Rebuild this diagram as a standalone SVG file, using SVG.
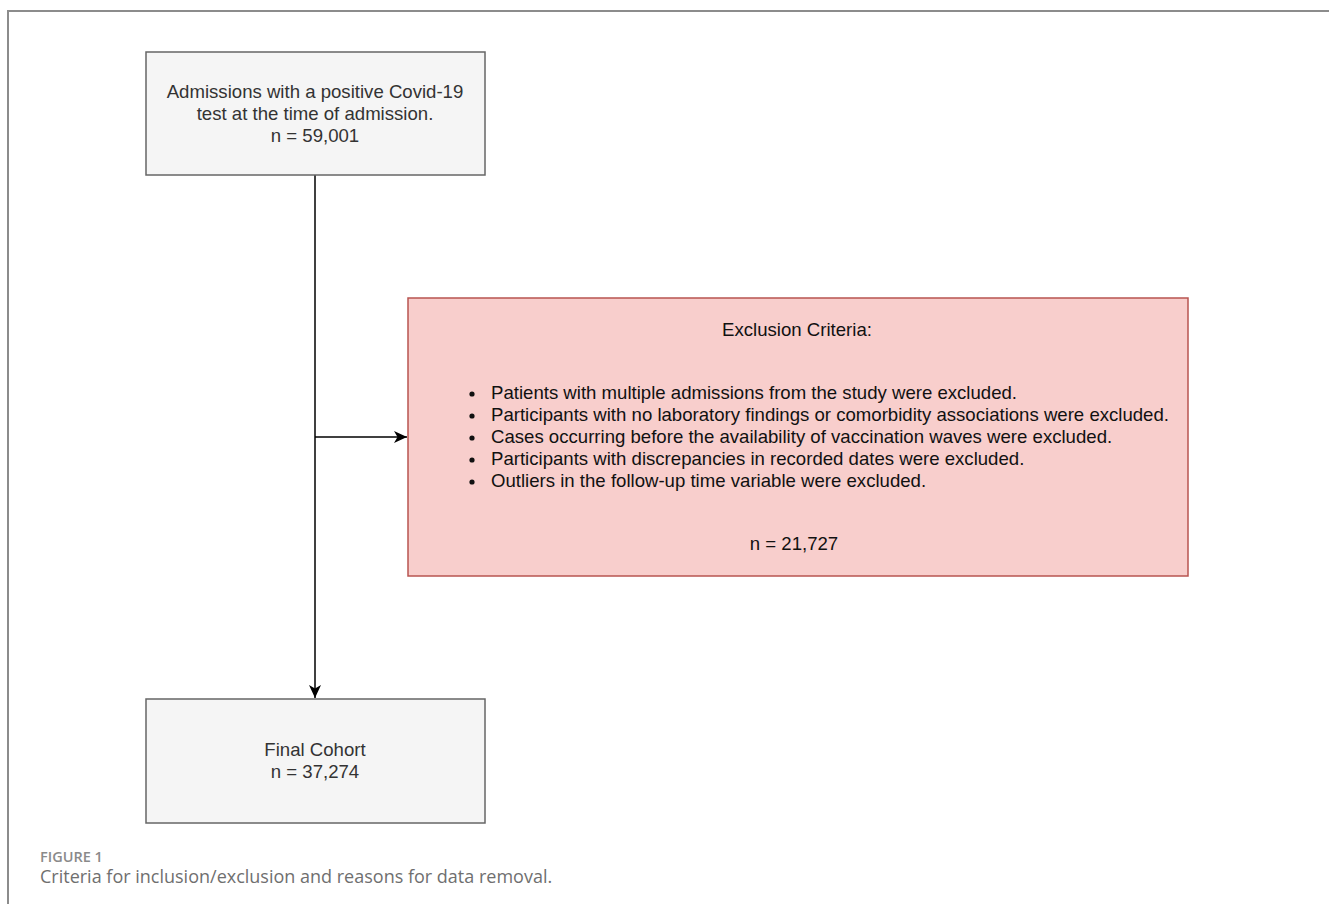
<svg xmlns="http://www.w3.org/2000/svg" width="1329" height="904" viewBox="0 0 1329 904">
<style>
.box{fill:#f5f5f5;stroke:#666;stroke-width:1.5}
.red{fill:#f8cecc;stroke:#b85450;stroke-width:1.5}
.t{font-family:"Liberation Sans",Arial,sans-serif;font-size:18.6px;fill:#333}
.tk{font-family:"Liberation Sans",Arial,sans-serif;font-size:18.6px;fill:#111}
.c{text-anchor:middle}
.edge{stroke:#000;stroke-width:1.5;fill:none}
.cap1{font-family:"Open Sans","Noto Sans",sans-serif;font-size:14.5px;font-weight:600;fill:#8a8a8a}
.cap2{font-family:"Open Sans","Noto Sans",sans-serif;font-size:18px;fill:#6f6f6f}
</style>
<defs>
<marker id="arr" viewBox="0 0 13 12" refX="13" refY="6" markerWidth="13" markerHeight="12" markerUnits="userSpaceOnUse" orient="auto">
<path d="M0,0 L13,6 L0,12 L3.5,6 Z" fill="#000"/>
</marker>
</defs>
<rect width="1329" height="904" fill="#fff"/>
<path d="M8,904 V11 H1329" fill="none" stroke="#8c8c8c" stroke-width="2"/>
<g id="connectors">
<line class="edge" x1="315" y1="175" x2="315" y2="698" marker-end="url(#arr)"/>
<line class="edge" x1="315" y1="437" x2="407" y2="437" marker-end="url(#arr)"/>
</g>
<g id="node-admissions">
<rect class="box" x="146" y="52" width="339" height="123"/>
<text class="t c" x="315" y="98">Admissions with a positive Covid-19</text>
<text class="t c" x="315" y="120">test at the time of admission.</text>
<text class="t c" x="315" y="142">n = 59,001</text>
</g>
<g id="node-exclusion">
<rect class="red" x="408" y="298" width="780" height="278"/>
<text class="tk c" x="797" y="336">Exclusion Criteria:</text>
<g fill="#111">
<circle cx="472" cy="394" r="2.6"/>
<circle cx="472" cy="416" r="2.6"/>
<circle cx="472" cy="438" r="2.6"/>
<circle cx="472" cy="460" r="2.6"/>
<circle cx="472" cy="482" r="2.6"/>
</g>
<text class="tk" x="491" y="399">Patients with multiple admissions from the study were excluded.</text>
<text class="tk" x="491" y="421">Participants with no laboratory findings or comorbidity associations were excluded.</text>
<text class="tk" x="491" y="443">Cases occurring before the availability of vaccination waves were excluded.</text>
<text class="tk" x="491" y="465">Participants with discrepancies in recorded dates were excluded.</text>
<text class="tk" x="491" y="487">Outliers in the follow-up time variable were excluded.</text>
<text class="tk c" x="794" y="550">n = 21,727</text>
</g>
<g id="node-final">
<rect class="box" x="146" y="699" width="339" height="124"/>
<text class="t c" x="315" y="756">Final Cohort</text>
<text class="t c" x="315" y="778">n = 37,274</text>
</g>
<g id="caption">
<text class="cap1" x="40" y="862">FIGURE 1</text>
<text class="cap2" x="40" y="883">Criteria for inclusion/exclusion and reasons for data removal.</text>
</g>
</svg>
